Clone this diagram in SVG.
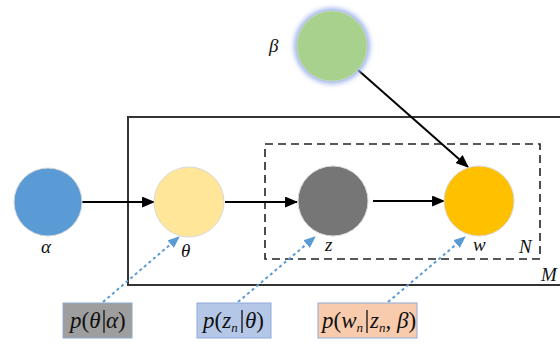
<svg xmlns="http://www.w3.org/2000/svg" width="560" height="344" viewBox="0 0 560 344">
<defs>
<style>
.lbl{font-family:"Liberation Serif","Times New Roman",serif;font-style:italic;font-size:19px;fill:#111}
.f{font-family:"Liberation Serif","Times New Roman",serif;font-size:23px;fill:#111}
.f .i{font-style:italic}
.f .s{font-style:italic;font-size:13px}
.edge{stroke:#000;stroke-width:2;fill:none}
.dot{stroke:#5B9BD5;stroke-width:2;stroke-dasharray:3 3;fill:none}
.node{stroke:#d9d9d9;stroke-width:1}
.bar{stroke:#111;stroke-width:1.3}
</style>
<marker id="ah" viewBox="0 0 12 10" refX="11" refY="5" markerWidth="13" markerHeight="11" orient="auto" markerUnits="userSpaceOnUse">
<path d="M0,0 L12,5 L0,10 z" fill="#000"/>
</marker>
<marker id="bh" viewBox="0 0 12 10" refX="11" refY="5" markerWidth="12" markerHeight="10" orient="auto" markerUnits="userSpaceOnUse">
<path d="M0,0 L12,5 L0,10 z" fill="#5B9BD5"/>
</marker>
<filter id="glow" x="-30%" y="-30%" width="160%" height="160%">
<feGaussianBlur stdDeviation="2.5"/>
</filter>
</defs>
<rect width="560" height="344" fill="#fff"/>
<g id="plates">
<rect x="128" y="117" width="440" height="168" fill="none" stroke="#333" stroke-width="2"/>
<text x="541" y="281" class="lbl">M</text>
<rect x="265" y="144" width="275" height="115" fill="none" stroke="#222" stroke-width="1.6" stroke-dasharray="8 5"/>
<text x="519" y="253" class="lbl">N</text>
</g>
<g id="connectors">
<line class="edge" x1="82" y1="202" x2="154" y2="202" marker-end="url(#ah)"/>
<line class="edge" x1="225" y1="202" x2="297" y2="202" marker-end="url(#ah)"/>
<line class="edge" x1="373" y1="201" x2="444" y2="201" marker-end="url(#ah)"/>
<line class="edge" x1="358" y1="70" x2="468" y2="167" marker-end="url(#ah)"/>
<line class="dot" x1="103" y1="302" x2="179" y2="237" marker-end="url(#bh)"/>
<line class="dot" x1="238" y1="302" x2="315" y2="237" marker-end="url(#bh)"/>
<line class="dot" x1="388" y1="302" x2="465" y2="237" marker-end="url(#bh)"/>
</g>
<g id="beta">
<circle cx="332" cy="46" r="38" fill="#9DB3EC" filter="url(#glow)"/>
<circle cx="332" cy="46" r="35" fill="#A9D18E" stroke="#c5d9b5" stroke-width="1"/>
<text x="269" y="52" class="lbl">β</text>
</g>
<g id="alpha">
<circle cx="48" cy="202" r="34" fill="#5B9BD5" class="node"/>
<text x="41" y="253" class="lbl">α</text>
</g>
<g id="theta">
<circle cx="189" cy="202" r="35" fill="#FFE699" class="node"/>
<text x="181" y="257" class="lbl">θ</text>
</g>
<g id="z">
<circle cx="333" cy="201" r="35" fill="#767676" class="node"/>
<text x="325" y="251" class="lbl">z</text>
</g>
<g id="w">
<circle cx="479" cy="201" r="35" fill="#FFC000" class="node"/>
<text x="473" y="251" class="lbl">w</text>
</g>
<g id="box1">
<rect x="63" y="303" width="69" height="35" fill="#9E9E9E" stroke="#8DA9CF" stroke-width="1"/>
<text x="70" y="328" class="f"><tspan class="i">p</tspan>(<tspan class="i">θ</tspan></text>
<line class="bar" x1="104" y1="310" x2="104" y2="333"/>
<text x="106" y="328" class="f"><tspan class="i">α</tspan>)</text>
</g>
<g id="box2">
<rect x="197" y="303" width="74" height="35" fill="#B4C7E7" stroke="#8FAADC" stroke-width="1"/>
<text x="203" y="328" class="f"><tspan class="i">p</tspan>(<tspan class="i">z</tspan><tspan class="s" dy="4">n</tspan></text>
<line class="bar" x1="242" y1="310" x2="242" y2="333"/>
<text x="245" y="328" class="f"><tspan class="i">θ</tspan>)</text>
</g>
<g id="box3">
<rect x="318" y="303" width="99" height="35" fill="#F8CBAD" stroke="#8FAADC" stroke-width="1"/>
<text x="322" y="328" class="f"><tspan class="i">p</tspan>(<tspan class="i">w</tspan><tspan class="s" dy="4">n</tspan></text>
<line class="bar" x1="367" y1="310" x2="367" y2="333"/>
<text x="370" y="328" class="f"><tspan class="i">z</tspan><tspan class="s" dy="4">n</tspan><tspan dy="-4">, </tspan><tspan class="i">β</tspan>)</text>
</g>
</svg>
